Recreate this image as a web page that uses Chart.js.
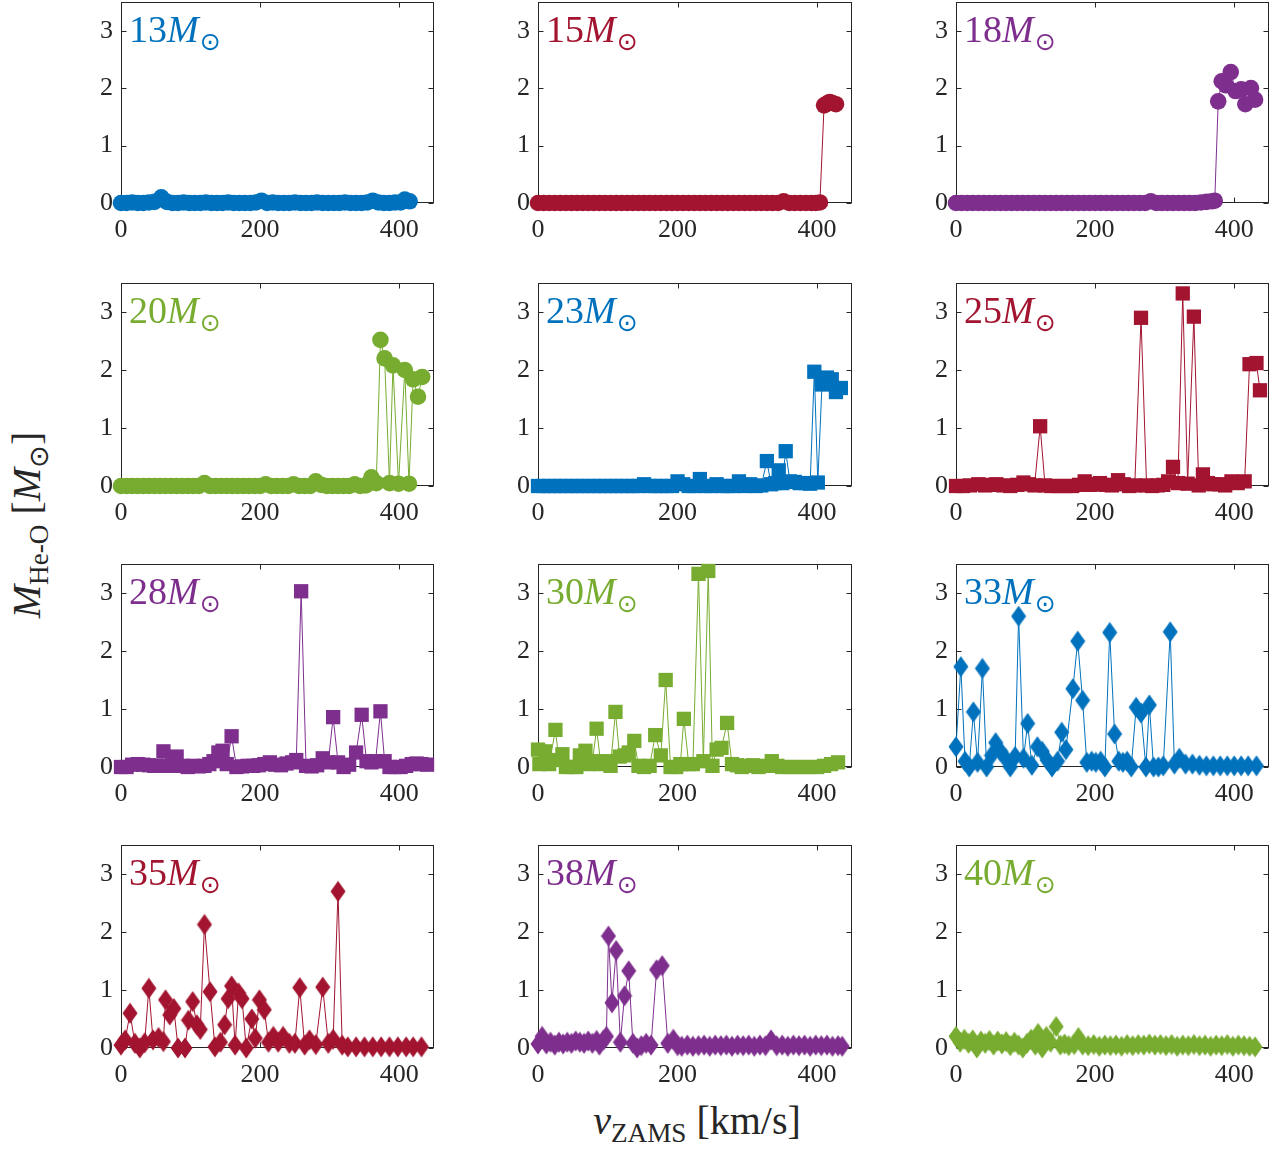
<!DOCTYPE html>
<html><head><meta charset="utf-8">
<script src="https://cdn.jsdelivr.net/npm/chart.js@4/dist/chart.umd.min.js"></script>
<style>
html,body{margin:0;padding:0;background:#fff;}
body{width:1273px;height:1149px;position:relative;overflow:hidden;font-family:"Liberation Serif","DejaVu Serif",serif;color:#262626;}
canvas{position:absolute;}
.lbl{position:absolute;font-size:38px;line-height:1;white-space:nowrap;}
.lbl i{font-style:italic;}
.sun{font-family:"DejaVu Sans",sans-serif;font-size:25px;position:relative;top:8px;margin-left:1px;}
.title{position:absolute;font-size:40px;line-height:1;white-space:nowrap;transform:translate(-50%,-50%);}
.title sub{font-size:0.68em;vertical-align:-0.32em;}
#yt{transform:translate(-50%,-50%) rotate(-90deg);}
</style></head>
<body>
<script>
// ---- data ----
const xTickVals = [0, 200, 400];
const yTickVals = [0, 1, 2, 3];
const massLabels = ['13','15','18','20','23','25','28','30','33','35','38','40'];

const v13 = [0,8,16,24,32,40,48,58,66,74,82,90,98,106,114,122,130,138,146,154,162,170,178,186,194,202,210,218,226,234,242,250,258,266,274,282,290,298,306,314,322,330,338,346,354,362,370,378,386,394,402,408,415];
const he13 = [0,0,0.01,0,0,0.01,0.02,0.10,0.02,
 0,0,0.01,0,0,0,0.01,0,0,0,0.01,0,0,0,0,0.01,
 0.04,
 0,0.01,0,0,0,0.01,0,0,0,0.01,0,0,0,0,0.01,0,0,0,0.01,
 0.04,
 0.01,0,0,0.01,0.01,
 0.06,0.03];

const v15 = [0,8,16,24,32,40,48,56,64,72,80,88,96,104,112,120,128,136,144,152,160,168,176,184,192,200,208,216,224,232,240,248,256,264,272,280,288,296,304,312,320,328,336,344,352,360,368,376,384,392,398,404,410,414,418,422,427];
const he15 = [0,0,0,0,0,0,0,0,0,0,
 0,0,0,0,0,0,0,0,0,0,
 0,0,0,0,0,0,0,0,0,0,
 0,0,0,0,0,0,0,0,0,0,
 0,0,0,0,
 0.03,
 0,0,0,0,0,
 0,0.01,
 1.70,1.73,1.76,1.74,1.72];

const v18 = [0,8,16,24,32,40,48,56,64,72,80,88,96,104,112,120,128,136,144,152,160,168,176,184,192,200,208,216,224,232,240,248,256,264,272,280,288,296,304,312,320,328,336,344,352,360,368,372,377,382,388,395,402,410,416,424,430];
const he18 = [0,0,0,0,0,0,0,0,0,0,
 0,0,0,0,0,0,0,0,0,0,
 0,0,0,0,0,0,0,0,0,0,
 0,0,0,0,0,0.03,0,0,0,0,
 0,0,0,0,0.01,0.02,0.03,
 0.04,
 1.77,2.12,2.05,2.28,1.95,1.98,1.72,2.0,1.80];

const v20 = [0,8,16,24,32,40,48,56,64,72,80,88,96,104,112,120,128,136,144,152,160,168,176,184,192,200,208,216,224,232,240,248,256,264,272,280,288,296,304,312,320,328,336,344,352,360,367,373,379,386,391,399,408,414,420,427,433];
const he20 = [0,0,0,0,0,0,0,0,0,0,
 0,0,0,0,0,0.05,0,0,0,0,
 0,0,0,0,0,0,0.03,0,0,0,
 0,0.03,0,0,0,0.08,0.02,0,0,0,
 0,0,0.03,0,0.01,
 0.15,0.05,2.52,2.2,0.05,2.08,0.04,2.0,0.04,1.84,1.54,1.88];

const v23 = [0,8,16,24,32,40,48,56,64,72,80,88,96,104,112,120,128,136,144,152,160,168,176,184,192,200,208,216,224,232,240,248,256,264,272,280,288,296,304,312,320,328,334,340,345,350,355,361,368,375,384,390,396,401,407,414,421,427,434];
const he23 = [0,0,0,0,0,0,0,0,0,0,
 0,0,0,0,0,0,0,0,0,0.03,
 0,0,0,0,0,0.08,0.03,0,0,0.12,
 0,0,0.03,0,0,0,0.08,0,0.03,0,
 0.01,
 0.43,0.03,0.05,0.27,0.05,0.6,0.08,0.07,0.05,0.05,0.04,1.97,0.06,1.75,1.87,1.84,1.62,1.69];

const v25 = [0,10,20,32,42,50,58,68,78,88,97,105,113,121,128,137,147,157,167,177,185,193,200,207,215,224,233,241,249,257,266,274,282,290,298,305,312,319,326,333,342,349,355,362,370,379,387,396,405,415,422,432,437];
const he25 = [0,0,0.01,0.03,0.01, 0.02,0.03,0.01,0,0.02, 0.06,0.03,0.01,1.03,0.01, 0,0,0,0,0.02,
 0.08,0.02,0.03,0.05,0.02, 0.01,0.1,0.03,0,0.01, 2.9,0.01,0,0.01,0.02, 0.08,0.33,0.05,3.32,0.04,
 2.92,0.01,0.2,0.05,0.03, 0.03,0.01,0.08,0.05,0.08, 2.1,2.12,1.65];

const v28 = [0,8,16,24,32,40,48,55,61,68,74,80,88,96,104,112,120,127,133,140,146,152,159,166,174,182,190,198,206,214,222,230,238,246,252,259,266,274,282,290,298,305,312,320,328,338,346,353,360,366,373,379,386,394,402,410,418,425,432,440];
const he28 = [0,0,0.04,0.05,0.04, 0.03,0.02,0.02,0.27,0.02, 0.03,0.18,0.02,0,0.02, 0.01,0.02,0.05,0.1,0.25,
 0.28,0.05,0.53,0,0.01, 0.02,0.02,0.03,0.05,0.08, 0.04,0.03,0.06,0.08,0.12, 3.03,0.02,0.01,0.03,0.15,
 0.08,0.86,0.08,0,0.04, 0.25,0.9,0.1,0.08,0.1, 0.96,0.1,0,0,0, 0.02,0.05,0.06,0.05,0.04];

const v30 = [0,2,10,16,25,30,35,40,48,55,60,68,72,78,84,90,98,104,111,117,124,130,138,144,152,160,168,176,183,190,198,204,209,216,222,230,237,244,250,256,263,271,278,285,292,300,308,316,325,335,343,350,360,370,380,390,400,410,420,430];
const he30 = [0.3,0.05,0.27,0.05,0.64, 0.12,0.22,0,0,0, 0.2,0.28,0.05,0.1,0.66, 0.05,0.1,0.02,0.95,0.18,
 0.2,0.25,0.45,0.02,0, 0.02,0.55,0.2,1.5,0, 0,0.05,0.83,0.05,0.05, 3.33,0.1,3.38,0.02,0.3,
 0.33,0.76,0.05,0.03,0, 0.02,0.03,0,0.02,0.1, 0.02,0,0,0,0, 0,0,0.02,0.05,0.08];

const v33 = [0,7,13,19,25,31,38,44,51,57,64,71,78,85,90,97,103,109,117,124,131,138,146,152,158,168,175,182,188,195,201,208,214,221,228,234,240,246,252,259,266,273,278,284,291,298,308,314,321,330,340,350,360,370,380,390,400,410,420,432];
const he33 = [0.35,1.73,0.1,0,0.95, 0.08,1.7,0,0.2,0.42, 0.27,0.15,0,0.18,2.6, 0.15,0.75,0.03,0.35,0.27,
 0.12,0,0.1,0.6,0.3, 1.35,2.17,1.15,0.08,0.1, 0.08,0.1,0,2.32,0.57, 0.1,0.08,0.1,0,1.03,
 0.93,0,1.07,0,0, 0.02,2.33,0.05,0.15,0.05, 0.05,0.03,0.02,0.02,0.02, 0.02,0.02,0.02,0.02,0.02];

const v35 = [0,6,13,20,27,34,40,46,54,61,64,70,76,82,92,97,103,109,114,120,128,135,143,149,154,159,164,169,174,180,188,193,199,206,212,219,226,233,242,250,257,264,271,280,290,298,305,312,318,326,338,350,362,374,386,398,410,420,432];
const he35 = [0.05,0.14,0.6,0.08,0, 0.09,1.03,0.14,0.18,0.11, 0.83,0.57,0.68,0,0, 0.48,0.8,0.4,0.32,2.13,
 0.97,0.02,0.1,0.4,0.85, 1.07,0.05,0.95,0.85,0, 0.5,0.17,0.83,0.66,0.1, 0.2,0.1,0.2,0.08,0.08,
 1.04,0.05,0.14,0.06,1.05, 0.08,0.15,2.7,0.05,0.02, 0.02,0.02,0.02,0.02,0.02, 0.02,0.02,0.02,0.02];

const v38 = [0,6,12,18,24,30,36,42,48,54,60,66,72,78,84,88,94,98,101,106,112,118,124,130,136,142,148,155,162,170,178,186,194,200,206,214,222,230,238,246,254,262,270,278,286,294,302,310,318,326,334,342,350,358,366,374,382,390,398,406,414,422,430,436];
const he38 = [0.07,0.2,0.07,0.1,0.05, 0.1,0.07,0.1,0.08,0.12, 0.1,0.08,0.12,0.08,0.13,
 0.05,0.14,0.2,1.93,0.78, 1.68,0.1,0.9,1.33,0.08, 0,0.04,0.08,0.05,1.35,
 1.42,0.08,0.15,0.04,0.03, 0.05,0.03,0.04,0.05,0.03, 0.05,0.04,0.05,0.03,0.05,
 0.04,0.05,0.03,0.05,0.04, 0.14,0.04,0.05,0.03,0.05, 0.04,0.05,0.03,0.05,0.04,
 0.05,0.03,0.04,0.03];

const v40 = [0,6,12,18,24,30,36,42,48,54,60,66,72,78,84,90,96,102,108,114,118,124,130,136,144,150,156,162,170,176,182,190,198,206,214,222,230,238,246,254,262,270,278,286,294,302,310,318,326,334,342,350,358,366,374,382,390,398,406,414,422,430];
const he40 = [0.2,0.1,0.15,0.08,0.14, 0,0.12,0.08,0.13,0.05, 0.12,0.07,0.11,0.04,0.1, 0.05,0,0.08,0.15,0.05,
 0.25,0,0.2,0.1,0.37, 0.05,0.07,0.04,0.06,0.18, 0.05,0.04,0.06,0.03,0.05, 0.04,0.05,0.03,0.06,0.04,
 0.06,0.05,0.07,0.05,0.06, 0.04,0.06,0.03,0.05,0.04, 0.06,0.04,0.05,0.03,0.05, 0.04,0.06,0.03,0.05,0.04,
 0.03,0.02];

const velocities = [v13,v15,v18,v20,v23,v25,v28,v30,v33,v35,v38,v40];
const coreMasses = [he13,he15,he18,he20,he23,he25,he28,he30,he33,he35,he38,he40];

// ---- styling / layout ----
const palette = ['#0072BD','#A2142F','#7E2F8E','#77AC30'];
const markerKinds = ['circle','circle','circle','circle','square','square','square','square','diamond','diamond','diamond','diamond'];
const colLeft = [121, 538, 956], colRight = [434, 852, 1269];
const rowTop = [2, 283, 564, 845], rowBottom = [203, 486, 767, 1048];
const axisColor = '#262626';
const tickFont = {family: "'Liberation Serif', 'DejaVu Serif', serif", size: 26};

function diamondImg(color){
  const c = document.createElement('canvas'); c.width = 16; c.height = 22;
  const g = c.getContext('2d'); g.fillStyle = color;
  g.beginPath(); g.moveTo(8,0.5); g.lineTo(15.5,11); g.lineTo(8,21.5); g.lineTo(0.5,11); g.closePath(); g.fill();
  return c;
}

const framePlugin = {
  id: 'frame',
  beforeDatasetsDraw(chart){
    const {ctx, chartArea: a, scales: {x, y}} = chart;
    ctx.save();
    ctx.strokeStyle = axisColor; ctx.lineWidth = 1;
    const L = Math.round(a.left)+0.5, R = Math.round(a.right)-0.5, T = Math.round(a.top)+0.5, B = Math.round(a.bottom)-0.5;
    ctx.strokeRect(L, T, R-L, B-T);
    ctx.beginPath();
    xTickVals.forEach(v => { const px = Math.round(x.getPixelForValue(v))+0.5;
      ctx.moveTo(px, B); ctx.lineTo(px, B-5); ctx.moveTo(px, T); ctx.lineTo(px, T+5); });
    yTickVals.forEach(v => { const py = Math.round(y.getPixelForValue(v))+0.5;
      ctx.moveTo(L, py); ctx.lineTo(L+5, py); ctx.moveTo(R, py); ctx.lineTo(R-5, py); });
    ctx.stroke();
    ctx.restore();
  }
};

const padL = 60, padT = 12, padR = 16, padB = 46;

function zeroPad(s){ s.paddingTop = 0; s.paddingBottom = 0; s.paddingLeft = 0; s.paddingRight = 0; }

massLabels.forEach((lab, i) => {
  const r = Math.floor(i/3), c = i % 3;
  const Lx = colLeft[c], Rx = colRight[c], Ty = rowTop[r], By = rowBottom[r];
  const W = Rx - Lx + padL + padR, H = By - Ty + padT + padB;
  const cv = document.createElement('canvas');
  cv.width = W; cv.height = H;
  cv.style.left = (Lx - padL) + 'px'; cv.style.top = (Ty - padT) + 'px';
  cv.style.width = W + 'px'; cv.style.height = H + 'px';
  document.body.appendChild(cv);
  const color = palette[i % 4];
  const kind = markerKinds[i];
  let ps, pr;
  if (kind === 'circle') { ps = 'circle'; pr = 8.3; }
  else if (kind === 'square') { ps = 'rect'; pr = 10.1; }
  else { ps = diamondImg(color); pr = 10; }
  const xs = velocities[i], ys = coreMasses[i];
  const n = Math.min(xs.length, ys.length);
  const pts = [];
  for (let k = 0; k < n; k++) pts.push({x: xs[k], y: ys[k]});
  new Chart(cv, {
    type: 'line',
    data: { datasets: [{
      data: pts, borderColor: color, backgroundColor: color, borderWidth: 1,
      pointStyle: ps, pointRadius: pr, pointBorderWidth: 0, pointBackgroundColor: color,
      tension: 0, clip: false, fill: false
    }]},
    options: {
      responsive: false, animation: false, devicePixelRatio: 1,
      layout: {padding: {left: 0, top: padT, right: padR, bottom: 0}},
      plugins: {legend: {display: false}, tooltip: {enabled: false}},
      events: [],
      scales: {
        x: {
          type: 'linear', min: 0, max: 450,
          afterBuildTicks: s => { s.ticks = xTickVals.map(v => ({value: v})); },
          afterFit: s => { s.height = padB; zeroPad(s); },
          grid: {display: false, drawTicks: false}, border: {display: false},
          ticks: {font: tickFont, color: axisColor, padding: 12, maxRotation: 0, autoSkip: false}
        },
        y: {
          type: 'linear', min: 0, max: 3.5,
          afterBuildTicks: s => { s.ticks = yTickVals.map(v => ({value: v})); },
          afterFit: s => { s.width = padL; zeroPad(s); },
          grid: {display: false, drawTicks: false}, border: {display: false},
          ticks: {font: tickFont, color: axisColor, padding: 8, autoSkip: false}
        }
      }
    },
    plugins: [framePlugin]
  });
  const d = document.createElement('div');
  d.className = 'lbl';
  d.style.left = (Lx + 8) + 'px';
  d.style.top = (Ty + 8) + 'px';
  d.style.color = color;
  d.innerHTML = lab + '<i>M</i><span class="sun">\u2299</span>';
  document.body.appendChild(d);
});

const yt = document.createElement('div');
yt.className = 'title'; yt.id = 'yt';
yt.style.left = '30px'; yt.style.top = '525px';
yt.innerHTML = '<i>M</i><sub>He-O</sub>&nbsp;[<i>M</i><sub style="font-family:\'DejaVu Sans\'">\u2299</sub>]';
document.body.appendChild(yt);

const xt = document.createElement('div');
xt.className = 'title';
xt.style.left = '697px'; xt.style.top = '1124px';
xt.innerHTML = '<i>v</i><sub>ZAMS</sub>&nbsp;[km/s]';
document.body.appendChild(xt);
</script>
</body></html>
